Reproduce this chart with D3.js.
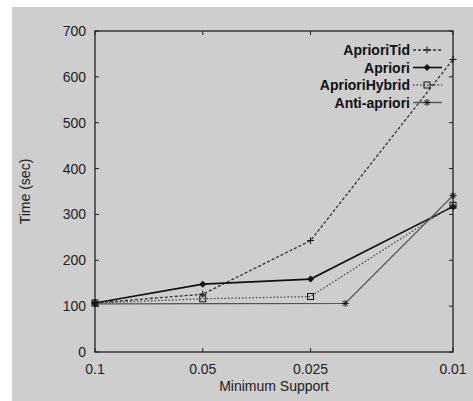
<!DOCTYPE html>
<html>
<head>
<meta charset="utf-8">
<script src="https://cdn.jsdelivr.net/npm/d3@7"></script>
<style>
  html, body { margin: 0; padding: 0; background: #fff; }
  svg { display: block; font-family: "Liberation Sans", Arial, sans-serif; }
</style>
</head>
<body>
<svg id="chart" width="473" height="401"></svg>
<script>
// minimum support values on the x axis (log scale, reversed)
const supportTicks = [0.1, 0.05, 0.025, 0.01];
const timeTicks = [0, 100, 200, 300, 400, 500, 600, 700];

const aprioriTidX = [0.1, 0.05, 0.025, 0.01];
const aprioriTidY = [107, 126, 243, 638];
const aprioriX = [0.1, 0.05, 0.025, 0.01];
const aprioriY = [107, 148, 159, 317];
const hybridX = [0.1, 0.05, 0.025, 0.01];
const hybridY = [107, 116, 121, 320];
const antiX = [0.1, 0.02, 0.01];
const antiY = [105, 106, 341];

const seriesNames = ["AprioriTid", "Apriori", "AprioriHybrid", "Anti-apriori"];

const svg = d3.select("#chart");

// grey screenshot background
svg.append("rect")
  .attr("x", 12).attr("y", 7)
  .attr("width", 461).attr("height", 394)
  .attr("fill", "#cecece");

const pLeft = 95, pRight = 453, pTop = 31, pBottom = 352;

const x = d3.scaleLog().domain([0.1, 0.01]).range([pLeft, pRight]);
const y = d3.scaleLinear().domain([0, 700]).range([pBottom, pTop]);

const ink = "#222";

// frame
svg.append("rect")
  .attr("x", pLeft).attr("y", pTop)
  .attr("width", pRight - pLeft).attr("height", pBottom - pTop)
  .attr("fill", "none").attr("stroke", ink).attr("stroke-width", 1.3);

// y ticks (inside, mirrored on right)
const yt = svg.append("g");
timeTicks.forEach(v => {
  yt.append("line").attr("x1", pLeft).attr("x2", pLeft + 4)
    .attr("y1", y(v)).attr("y2", y(v)).attr("stroke", ink);
  yt.append("line").attr("x1", pRight).attr("x2", pRight - 4)
    .attr("y1", y(v)).attr("y2", y(v)).attr("stroke", ink);
  yt.append("text").attr("x", pLeft - 9).attr("y", y(v))
    .attr("dy", "0.36em").attr("text-anchor", "end")
    .attr("font-size", 14).attr("fill", ink).text(v);
});

// x ticks
const xt = svg.append("g");
supportTicks.forEach(v => {
  xt.append("line").attr("x1", x(v)).attr("x2", x(v))
    .attr("y1", pBottom).attr("y2", pBottom - 4).attr("stroke", ink);
  xt.append("line").attr("x1", x(v)).attr("x2", x(v))
    .attr("y1", pTop).attr("y2", pTop + 4).attr("stroke", ink);
  xt.append("text").attr("x", x(v)).attr("y", pBottom + 17)
    .attr("dy", "0.36em").attr("text-anchor", "middle")
    .attr("font-size", 14).attr("fill", ink).text(v);
});

svg.append("text")
  .attr("x", (pLeft + pRight) / 2).attr("y", 386).attr("dy", "0.36em")
  .attr("text-anchor", "middle").attr("font-size", 14).attr("fill", ink)
  .text("Minimum Support");

svg.append("text")
  .attr("transform", `translate(25,${(pTop + pBottom) / 2}) rotate(-90)`)
  .attr("dy", "0.36em")
  .attr("text-anchor", "middle").attr("font-size", 14).attr("fill", ink)
  .text("Time (sec)");

// marker drawing helpers
function marker(g, kind, cx, cy) {
  if (kind === "plus") {
    g.append("path").attr("d", `M${cx - 3.5},${cy}H${cx + 3.5}M${cx},${cy - 3.5}V${cy + 3.5}`)
      .attr("stroke", "#111").attr("stroke-width", 1).attr("fill", "none");
  } else if (kind === "diamond") {
    g.append("path").attr("d", `M${cx},${cy - 3.5}L${cx + 3.5},${cy}L${cx},${cy + 3.5}L${cx - 3.5},${cy}Z`)
      .attr("fill", "#111");
  } else if (kind === "square") {
    g.append("rect").attr("x", cx - 3).attr("y", cy - 3).attr("width", 6).attr("height", 6)
      .attr("fill", "none").attr("stroke", "#111").attr("stroke-width", 1);
  } else if (kind === "star") {
    g.append("path").attr("d",
      `M${cx - 3.5},${cy}H${cx + 3.5}M${cx},${cy - 3.5}V${cy + 3.5}` +
      `M${cx - 2.5},${cy - 2.5}L${cx + 2.5},${cy + 2.5}M${cx - 2.5},${cy + 2.5}L${cx + 2.5},${cy - 2.5}`)
      .attr("stroke", "#111").attr("stroke-width", 1).attr("fill", "none");
  }
}

const series = [
  { xs: aprioriTidX, ys: aprioriTidY, stroke: "#333", width: 1.3, dash: "3,2", mk: "plus" },
  { xs: aprioriX, ys: aprioriY, stroke: "#111", width: 1.6, dash: null, mk: "diamond" },
  { xs: hybridX, ys: hybridY, stroke: "#444", width: 1.3, dash: "1.5,2", mk: "square" },
  { xs: antiX, ys: antiY, stroke: "#555", width: 1.4, dash: null, mk: "star" }
];

const line = d3.line().x(d => x(d[0])).y(d => y(d[1]));

const plot = svg.append("g");
series.forEach(s => {
  const pts = s.xs.map((v, i) => [v, s.ys[i]]);
  plot.append("path").datum(pts)
    .attr("d", line)
    .attr("fill", "none")
    .attr("stroke", s.stroke)
    .attr("stroke-width", s.width)
    .attr("stroke-dasharray", s.dash);
  pts.forEach(p => marker(plot, s.mk, x(p[0]), y(p[1])));
});

// legend
const legend = svg.append("g");
const legY = [50, 67.5, 85, 102.5];
series.forEach((s, i) => {
  legend.append("text").attr("x", 410).attr("y", legY[i]).attr("dy", "0.36em")
    .attr("text-anchor", "end").attr("font-size", 14).attr("font-weight", "bold")
    .attr("fill", "#111").text(seriesNames[i]);
  legend.append("line").attr("x1", 413).attr("x2", 442)
    .attr("y1", legY[i]).attr("y2", legY[i])
    .attr("stroke", s.stroke).attr("stroke-width", s.width)
    .attr("stroke-dasharray", s.dash);
  marker(legend, s.mk, 427, legY[i]);
});
</script>
</body>
</html>
